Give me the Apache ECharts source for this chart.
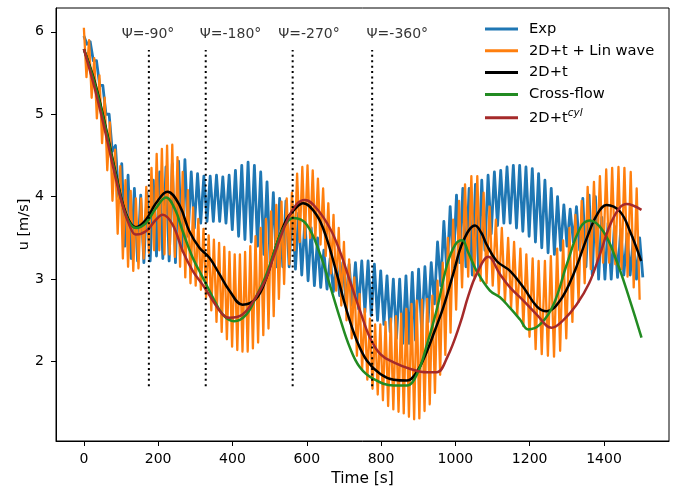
<!DOCTYPE html>
<html><head><meta charset="utf-8">
<script src="https://cdn.jsdelivr.net/npm/echarts@6/dist/echarts.min.js"></script>
<style>html,body{margin:0;padding:0;background:#fff}#c{width:678px;height:491px}</style>
</head><body><div id="c"></div>
<script>
// ---- data ----
// Exp: crest times, crest values and following trough values
const expPeakT = [0,17,34,51,68,85,102,119,136,153,170,187,204,221,238,255,272,289,306,323,340,357,374,391,408,425,442,459,476,493,510,527,544,561,578,595,612,629,646,663,680,697,714,731,748,765,782,799,816,833,850,867,884,901,918,935,952,969,986,1003,1020,1037,1054,1071,1088,1105,1122,1139,1156,1173,1190,1207,1224,1241,1258,1275,1292,1309,1326,1343,1360,1377,1394,1411,1428,1445,1462,1479,1496];
const expHi = [5.95,5.88,5.65,5.35,5.0,4.62,4.4,4.26,4.1,4.02,
  4.05,4.2,4.3,4.36,4.4,4.43,4.45,4.3,4.28,4.25,
  4.25,4.26,4.24,4.26,4.32,4.38,4.42,4.38,4.3,4.18,
  4.05,3.98,3.95,3.9,3.8,3.72,3.62,3.5,3.35,3.25,
  3.2,3.2,3.18,3.2,3.22,3.22,3.18,3.1,3.04,3.0,
  3.0,3.04,3.08,3.12,3.15,3.2,3.45,3.7,3.88,4.02,
  4.1,4.1,4.15,4.2,4.26,4.3,4.32,4.36,4.38,4.38,
  4.36,4.34,4.28,4.2,4.1,4.0,3.9,3.85,3.88,3.98,
  4.02,4.0,3.75,3.68,3.64,3.6,3.55,3.5,3.5];
const expLo = [5.85,5.65,5.35,5.0,4.55,4.0,3.4,3.25,3.22,3.2,
  3.22,3.28,3.25,3.22,3.2,3.35,3.52,3.62,3.68,3.7,
  3.7,3.7,3.68,3.6,3.52,3.48,3.45,3.4,3.3,3.2,
  3.15,3.15,3.15,3.12,3.05,2.98,2.92,2.9,2.88,2.85,
  2.8,2.72,2.68,2.64,2.6,2.56,2.5,2.45,2.36,2.28,
  2.22,2.22,2.26,2.35,2.48,2.7,2.92,3.05,3.15,3.2,
  3.15,3.05,3.1,3.35,3.55,3.65,3.68,3.68,3.62,3.58,
  3.52,3.45,3.38,3.32,3.3,3.35,3.4,3.45,3.35,3.15,
  3.05,3.0,3.0,3.0,3.02,3.05,3.05,3.0,3.02];

// 2D+t + Lin wave: crest times, crest values and following trough values
const linPeakT = [0,14,28,42,56,70,84,98,112,126,140,154,168,182,196,210,224,238,252,266,280,294,308,322,336,350,364,378,392,406,420,434,448,462,476,490,504,518,532,546,560,574,588,602,616,630,644,658,672,686,700,714,728,742,756,770,784,798,812,826,840,854,868,882,896,910,924,938,952,966,980,994,
  1010,1026,1043,1059,1076,1092,1109,1125,1142,1158,1175,1191,1208,1224,1241,1257,1274,1290,1307,1323,1340,1356,1373,1389,1406,1422,1439,1455,1472,1488];
const linHi = [6.05,5.9,5.68,5.47,5.2,4.9,4.57,4.37,4.2,4.07,
  3.98,3.98,4.12,4.35,4.52,4.58,4.62,4.63,4.48,4.3,
  4.08,3.87,3.73,3.61,3.53,3.48,3.44,3.39,3.33,3.3,
  3.3,3.33,3.4,3.52,3.62,3.73,3.82,3.9,3.94,3.98,
  4.05,4.28,4.36,4.38,4.32,4.22,4.1,3.92,3.78,3.62,
  3.45,3.24,3.02,2.82,2.64,2.52,2.45,2.45,2.48,2.52,
  2.55,2.58,2.64,2.7,2.74,2.75,2.76,2.8,2.98,3.2,
  3.5,3.72,
  3.95,4.15,4.25,4.25,4.05,3.88,3.72,3.62,3.5,3.45,
  3.37,3.3,3.25,3.22,3.22,3.28,3.37,3.47,3.62,3.78,
  3.95,4.12,4.18,4.25,4.33,4.35,4.36,4.35,4.3,4.1];
const linLo = [5.45,5.2,4.95,4.65,4.32,3.95,3.55,3.25,3.15,3.1,
  3.13,3.25,3.32,3.35,3.35,3.3,3.3,3.27,3.15,3.02,
  2.95,2.92,2.87,2.78,2.62,2.48,2.36,2.27,2.18,2.14,
  2.12,2.12,2.16,2.23,2.32,2.4,2.55,2.76,2.94,3.18,
  3.35,3.45,3.5,3.5,3.48,3.42,3.28,3.07,2.86,2.68,
  2.5,2.28,2.07,1.9,1.78,1.67,1.6,1.53,1.46,1.42,
  1.39,1.37,1.33,1.3,1.31,1.4,1.48,1.62,1.84,2.08,
  2.35,2.63,
  2.9,3.03,3.03,2.98,2.95,2.92,2.82,2.73,2.65,2.56,
  2.43,2.3,2.15,2.09,2.07,2.06,2.13,2.28,2.48,2.72,
  2.95,3.12,3.2,3.2,3.2,3.18,3.12,3.03,2.9,2.75];

const d2tT = [0,30,60,86,113,140,167,194,225,257,284,311,338,365,392,427,463,490,519,545,564,590,626,653,681,708,735,762,798,834,870,897,923,945,967,994,1021,1053,1070,1084,1111,1147,1183,1219,1246,1282,1318,1354,1381,1407,1443,1470,1500];
const d2tU = [5.79,5.38,4.82,4.28,3.8,3.63,3.72,3.92,4.06,3.9,3.58,3.38,3.26,3.06,2.86,2.69,2.76,3.0,3.42,3.72,3.83,3.92,3.78,3.5,3.06,2.61,2.25,2.01,1.85,1.78,1.77,1.88,2.12,2.38,2.65,3.06,3.46,3.65,3.56,3.42,3.22,3.1,2.9,2.67,2.61,2.74,3.06,3.5,3.78,3.9,3.82,3.58,3.22];

const crossT = [0,30,59,86,113,140,167,194,221,245,266,293,320,347,374,405,437,463,490,510,537,564,600,636,662,689,716,743,779,834,870,897,924,951,978,1000,1018,1035,1057,1093,1120,1147,1174,1196,1228,1264,1300,1336,1362,1398,1434,1470,1501];
const crossU = [5.79,5.36,4.82,4.26,3.78,3.62,3.68,3.86,3.99,3.85,3.58,3.26,3.02,2.78,2.57,2.49,2.57,2.78,3.04,3.3,3.62,3.74,3.66,3.3,2.93,2.53,2.17,1.93,1.79,1.71,1.71,1.85,2.21,2.65,3.18,3.42,3.47,3.32,3.1,2.86,2.78,2.65,2.51,2.39,2.45,2.69,3.18,3.62,3.71,3.58,3.22,2.74,2.29];

const cylT = [0,30,59,86,104,122,140,167,194,212,239,266,293,320,347,374,392,427,463,490,510,546,573,595,626,662,689,716,743,770,798,834,879,924,950,978,1012,1035,1057,1089,1120,1147,1183,1219,1259,1290,1326,1360,1389,1425,1461,1501];
const cylU = [5.79,5.3,4.76,4.22,3.9,3.66,3.54,3.58,3.72,3.78,3.66,3.34,3.1,2.93,2.74,2.57,2.53,2.57,2.78,3.0,3.26,3.7,3.91,3.96,3.86,3.62,3.34,2.98,2.62,2.29,2.09,1.99,1.91,1.87,1.87,2.05,2.45,2.8,3.06,3.27,3.06,2.9,2.74,2.57,2.41,2.5,2.69,2.95,3.3,3.74,3.91,3.84];

const psiT = [175, 328, 562, 776];
const psiLineU = [1.70, 5.78];
const psiLabels = ['Ψ=-90°', 'Ψ=-180°', 'Ψ=-270°', 'Ψ=-360°'];
const psiLabelT = [102, 312, 523, 761];
const psiLabelU = 5.975;

const xTicks = [0, 200, 400, 600, 800, 1000, 1200, 1400];
const yTicks = [2, 3, 4, 5, 6];
const xRange = [-75, 1575];
const yRange = [1.036, 6.289];

// ---- build series ----
// each trough sits midway between two consecutive crests
function osc(peakT, hi, lo, lastHalf) {
  const out = [];
  for (let i = 0; i < peakT.length; i++) {
    out.push([peakT[i], hi[i]]);
    const tNext = i + 1 < peakT.length ? (peakT[i] + peakT[i + 1]) / 2 : peakT[i] + lastHalf;
    out.push([tNext, lo[i]]);
  }
  return out;
}
function pairs(t, u) { return t.map((v, i) => [v, u[i]]); }

const FONT = 'DejaVu Sans';
const series = [
  {name: 'Exp', type: 'line', data: osc(expPeakT, expHi, expLo, 8.5), showSymbol: false, symbol: 'none',
   lineStyle: {color: '#1f77b4', width: 2.8, join: 'round'}, itemStyle: {color: '#1f77b4'}},
  {name: '2D+t + Lin wave', type: 'line', data: osc(linPeakT, linHi, linLo, 8), showSymbol: false, symbol: 'none',
   lineStyle: {color: '#ff7f0e', width: 2.3, join: 'round'}, itemStyle: {color: '#ff7f0e'}},
  {name: '2D+t', type: 'line', data: pairs(d2tT, d2tU), smooth: 0.4, showSymbol: false, symbol: 'none',
   lineStyle: {color: '#000000', width: 2.5}, itemStyle: {color: '#000000'}},
  {name: 'Cross-flow', type: 'line', data: pairs(crossT, crossU), smooth: 0.4, showSymbol: false, symbol: 'none',
   lineStyle: {color: '#228b22', width: 2.5}, itemStyle: {color: '#228b22'}},
  {name: '2D+t_cyl', type: 'line', data: pairs(cylT, cylU), smooth: 0.4, showSymbol: false, symbol: 'none',
   lineStyle: {color: '#a52a2a', width: 2.5}, itemStyle: {color: '#a52a2a'}}
];
psiT.forEach((t, i) => {
  series.push({name: 'psi' + i, type: 'line', data: [[t, psiLineU[0]], [t, psiLineU[1]]],
    showSymbol: false, symbol: 'none', z: 5,
    lineStyle: {color: '#000', width: 2, type: [2, 3.4]}});
});
series.push({name: 'psiLabels', type: 'scatter', symbolSize: 0, z: 6,
  data: psiLabelT.map((t, i) => ({value: [t, psiLabelU], name: psiLabels[i]})),
  label: {show: true, position: 'right', distance: 0, formatter: p => p.name,
    color: '#000', fontFamily: FONT, fontSize: 14}});

const chart = echarts.init(document.getElementById('c'), null, {renderer: 'canvas'});
chart.setOption({
  animation: false,
  backgroundColor: '#fff',
  grid: {left: 56, right: 9, top: 8, bottom: 47, show: true, borderColor: '#000', borderWidth: 1, backgroundColor: 'transparent'},
  xAxis: {
    type: 'value', min: xRange[0], max: xRange[1],
    name: 'Time [s]', nameLocation: 'middle', nameGap: 30, nameMoveOverlap: false,
    nameTextStyle: {fontFamily: FONT, fontSize: 15.4, color: '#000'},
    axisLine: {show: true, onZero: false, lineStyle: {color: '#000', width: 1}},
    axisTick: {show: true, inside: false, length: 5, customValues: xTicks, lineStyle: {color: '#000'}},
    axisLabel: {customValues: xTicks, margin: 11, fontFamily: FONT, fontSize: 14, color: '#000', formatter: v => String(v)},
    splitLine: {show: false}
  },
  yAxis: {
    type: 'value', min: yRange[0], max: yRange[1],
    name: 'u [m/s]', nameLocation: 'middle', nameGap: 24, nameRotate: 90, nameMoveOverlap: false,
    nameTextStyle: {fontFamily: FONT, fontSize: 14.5, color: '#000'},
    axisLine: {show: true, onZero: false, lineStyle: {color: '#000', width: 1}},
    axisTick: {show: true, inside: false, length: 5, customValues: yTicks, lineStyle: {color: '#000'}},
    axisLabel: {customValues: yTicks, margin: 12, fontFamily: FONT, fontSize: 14, color: '#000', formatter: v => String(v)},
    splitLine: {show: false}
  },
  legend: {
    orient: 'vertical', left: 485, top: 21, padding: 0, itemGap: 5.8,
    itemWidth: 33, itemHeight: 3, icon: 'rect',
    data: ['Exp', '2D+t + Lin wave', '2D+t', 'Cross-flow', '2D+t_cyl'],
    formatter: n => n === '2D+t_cyl' ? '2D+t{sup|cyl}' : n,
    textStyle: {fontFamily: FONT, fontSize: 14.7, color: '#000', lineHeight: 16, padding: [0, 0, 0, 6],
      rich: {sup: {fontFamily: FONT, fontSize: 10.5, fontStyle: 'italic', color: '#000', padding: [0, 0, 8, 0]}}}
  },
  series: series
});
</script></body></html>
